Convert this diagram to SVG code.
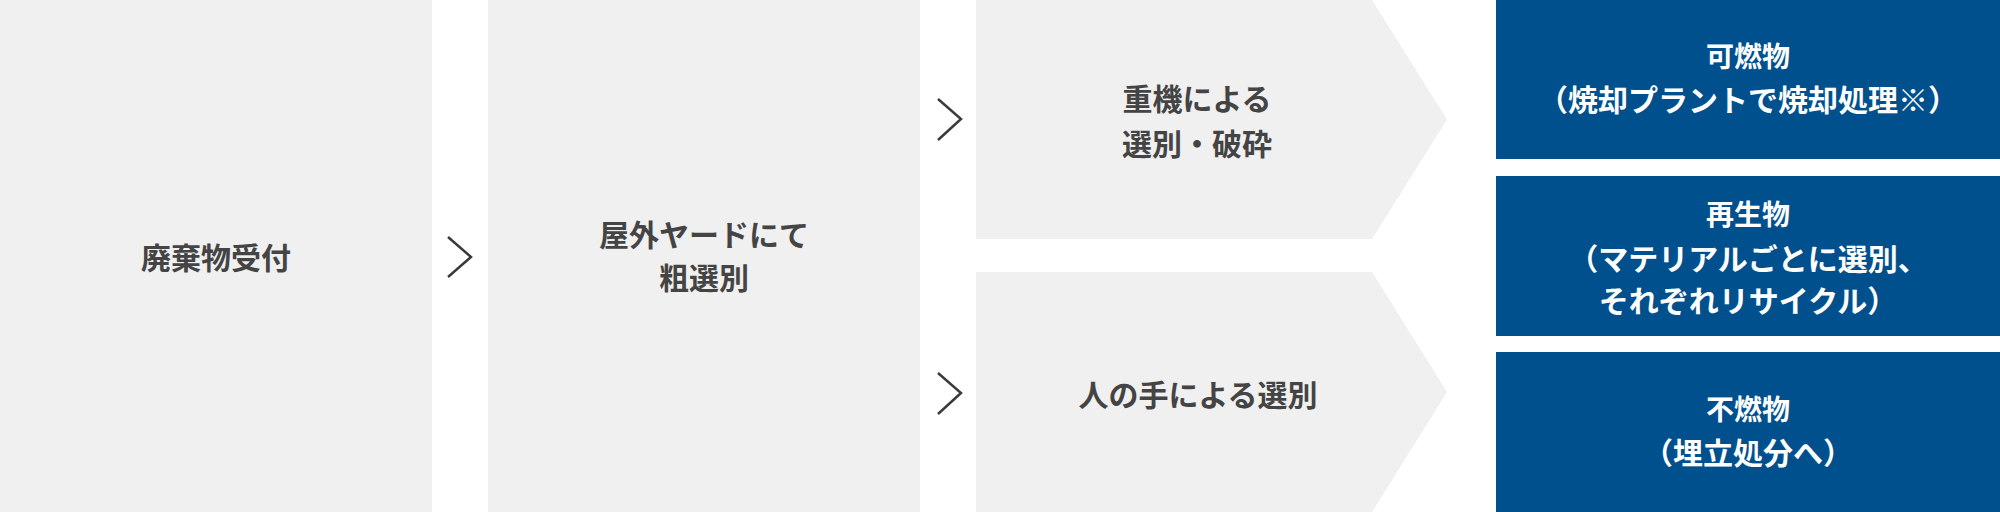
<svg xmlns="http://www.w3.org/2000/svg" width="2000" height="512" viewBox="0 0 2000 512">
<style>
.box{fill:#f0f0f0}
.blue{fill:#00508e}
.t{font-family:"Noto Sans CJK JP","Noto Sans CJK SC",sans-serif;font-size:30px;font-weight:700;fill:#444;text-anchor:middle}
.w{font-family:"Noto Sans CJK JP","Noto Sans CJK SC",sans-serif;font-size:28px;font-weight:700;fill:#fff;text-anchor:middle}
.ws{font-family:"Noto Sans CJK JP","Noto Sans CJK SC",sans-serif;font-size:30px;font-weight:700;fill:#fff;text-anchor:middle}
.chev{fill:none;stroke:#3a3a3a;stroke-width:2.5}
</style>
<rect width="2000" height="512" fill="#fff"/>
<g id="node-reception">
<rect class="box" x="0" y="0" width="432" height="512"/>
<text class="t" x="216" y="269">廃棄物受付</text>
</g>
<g id="node-yard">
<rect class="box" x="488" y="0" width="432" height="512"/>
<text class="t" x="704" y="246">屋外ヤードにて</text>
<text class="t" x="704" y="289">粗選別</text>
</g>
<g id="node-machine">
<polygon class="box" points="976,0 1372,0 1447,119.5 1372,239 976,239"/>
<text class="t" x="1197" y="110">重機による</text>
<text class="t" x="1197" y="155">選別・破砕</text>
</g>
<g id="node-hand">
<polygon class="box" points="976,272 1372,272 1447,392 1372,512 976,512"/>
<text class="t" x="1198" y="406">人の手による選別</text>
</g>
<g id="node-combustible">
<rect class="blue" x="1496" y="0" width="504" height="159"/>
<text class="w" x="1748" y="67">可燃物</text>
<text class="ws" x="1748" y="111">（焼却プラントで焼却処理※）</text>
</g>
<g id="node-recycle">
<rect class="blue" x="1496" y="176" width="504" height="160"/>
<text class="w" x="1748" y="225">再生物</text>
<text class="ws" x="1748" y="270">（マテリアルごとに選別、</text>
<text class="ws" x="1748" y="312">それぞれリサイクル）</text>
</g>
<g id="node-incombustible">
<rect class="blue" x="1496" y="352" width="504" height="160"/>
<text class="w" x="1748" y="420">不燃物</text>
<text class="ws" x="1748" y="464">（埋立処分へ）</text>
</g>
<g id="connectors">
<polyline class="chev" points="448,237 471,257 448,277"/>
<polyline class="chev" points="938,99 961,119 938,140"/>
<polyline class="chev" points="938,373 961,393 938,414"/>
</g>
</svg>
